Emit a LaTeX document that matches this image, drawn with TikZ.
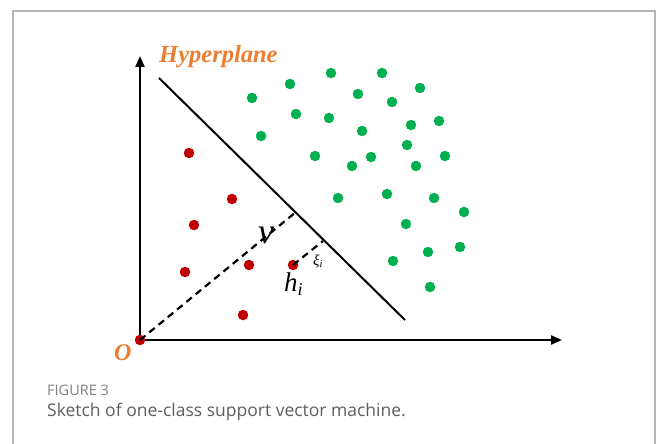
\documentclass[tikz,border=0pt]{standalone}
\usepackage{fontspec}
\setmainfont{Open Sans}
\newfontfamily\tnr{Liberation Serif}
\usetikzlibrary{arrows.meta}
\definecolor{svmgreen}{HTML}{00B050}
\definecolor{svmred}{HTML}{C00000}
\definecolor{svmorange}{HTML}{ED7D31}
\definecolor{framegray}{HTML}{B4B4B4}
\definecolor{capgray}{HTML}{808080}
\definecolor{txtgray}{HTML}{5E5E5E}
\tikzset{
  gdot/.style={circle,fill=svmgreen,inner sep=0pt,minimum size=10.5pt},
  rdot/.style={circle,fill=svmred,inner sep=0pt,minimum size=10.5pt},
  axis/.style={line width=2.2pt,-{Triangle[length=11pt,width=9pt]}},
  hyp/.style={line width=2pt},
  dsh/.style={line width=2.2pt,dash pattern=on 7pt off 5pt},
  lbl/.style={inner sep=0pt,text=svmorange},
  mlbl/.style={inner sep=0pt,font=\tnr\itshape},
}
\begin{document}
\begin{tikzpicture}[x=1pt,y=-1pt]
\useasboundingbox (0,0) rectangle (656,444);
% frame
\draw[framegray,line width=1.5pt] (13,444) -- (13,11) -- (655,11) -- (655,444);
% axes
\coordinate (yt) at (140,56);
\coordinate (xt) at (562,340);
\draw[axis] (140,340) -- (yt);
\draw[axis] (140,340) -- (xt);
% hyperplane
\coordinate (hp1) at (159,78);
\coordinate (hp2) at (405,320);
\draw[hyp] (hp1) -- (hp2);
\node[lbl,anchor=base west,font=\tnr\bfseries\itshape\fontsize{24.5}{25}\selectfont] (hlab) at (159,63) {Hyperplane};
% green dots
\foreach \n/\x/\y in {1/252/98,2/290/84,3/331/73,4/382/73,5/358/94,6/420/88,7/392/102,
  8/296/114,9/329/118,10/362/131,11/411/125,12/439/121,13/261/136,14/407/145,
  15/315/156,16/371/157,17/352/166,18/416/166,19/445/156,
  20/338/198,21/387/194,22/434/198,23/464/212,24/406/224,25/428/252,26/460/247,
  27/393/261,28/430/287}
  \node[gdot] (g\n) at (\x,\y) {};
% red dots
\foreach \n/\x/\y in {1/189/153,2/232/199,3/194/225,4/185/272,5/249/265,6/243/315}
  \node[rdot] (r\n) at (\x,\y) {};
\node[rdot] (h) at (293,265) {};
\node[rdot] (o) at (140,340) {};
% dashed lines
\coordinate (vf) at (296,212);
\coordinate (xf) at (323,241);
\draw[dsh] (o.center) -- (vf);
\draw[dsh] (h.center) -- (xf);
% labels
\node[mlbl,anchor=base,font=\tnr\itshape\fontsize{36}{36}\selectfont] (nu) at (266,243) {ν};
\node[mlbl,anchor=base west,font=\tnr\itshape\fontsize{27}{27}\selectfont] (hl) at (284,291) {h\raisebox{-4.5pt}{\fontsize{18}{18}\selectfont i}};
\node[mlbl,anchor=base west,font=\tnr\itshape\fontsize{15}{15}\selectfont] (xl) at (313,265) {ξ\raisebox{-2.5pt}{\fontsize{10.5}{10.5}\selectfont i}};
\node[lbl,anchor=base west,font=\tnr\bfseries\itshape\fontsize{24}{24}\selectfont] (olab) at (114,360) {O};
% caption
\node[inner sep=0pt,anchor=base west,text=capgray,font=\fontsize{14.5}{15}\selectfont] (fig) at (47,395) {FIGURE 3};
\node[inner sep=0pt,anchor=base west,text=txtgray,font=\fontsize{17.5}{19}\selectfont] (cap) at (47,416) {Sketch of one-class support vector machine.};
\end{tikzpicture}
\end{document}
